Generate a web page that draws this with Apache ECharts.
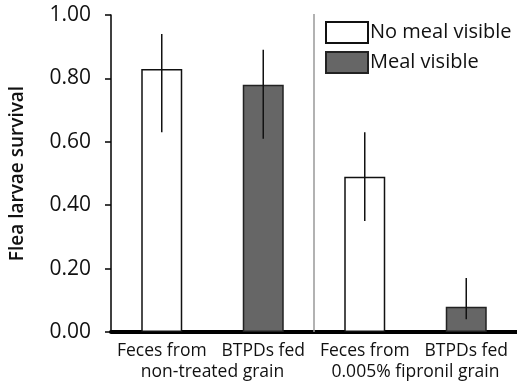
<!DOCTYPE html>
<html>
<head>
<meta charset="utf-8">
<script src="https://cdn.jsdelivr.net/npm/echarts@6/dist/echarts.min.js"></script>
<style>html,body{margin:0;padding:0;background:#fff}#c{width:517px;height:386px}</style>
</head>
<body>
<div id="c"></div>
<script>
const barLabels = ["Feces from", "BTPDs fed", "Feces from", "BTPDs fed"];
const groupLabels = ["non-treated grain", "0.005% fipronil grain"];
const noMeal = [0.83, null, 0.49, null];
const meal = [null, 0.78, null, 0.08];
const errLow = [0.63, 0.61, 0.35, 0.04];
const errHigh = [0.94, 0.89, 0.63, 0.17];
const separatorAfter = [1];

const FONT = "Open Sans";
const chart = echarts.init(document.getElementById('c'), null, {renderer: 'canvas'});

const errData = errLow.map((lo, i) => [i, lo, errHigh[i]]);
const sepData = separatorAfter.map(i => [i, 0]);

chart.setOption({
  animation: false,
  textStyle: {fontFamily: FONT},
  grid: {left: 110, right: 0, top: 15, bottom: 54, containLabel: false},
  legend: {
    left: 325, top: 21, orient: 'vertical', padding: 0,
    itemWidth: 42, itemHeight: 21, itemGap: 7, icon: 'rect',
    textStyle: {fontFamily: FONT, fontSize: 20, color: '#111', padding: [0, 0, 0, -3]},
    data: ['No meal visible', 'Meal visible']
  },
  xAxis: [{
    type: 'category', data: barLabels, position: 'bottom',
    axisLine: {show: true, lineStyle: {color: '#000', width: 4}},
    axisTick: {show: false},
    axisLabel: {fontFamily: FONT, fontSize: 17.5, color: '#111', margin: 10, interval: 0}
  }, {
    type: 'category', data: groupLabels, position: 'bottom', offset: 21,
    axisLine: {show: false}, axisTick: {show: false},
    axisLabel: {fontFamily: FONT, fontSize: 17.5, color: '#111', margin: 10, interval: 0}
  }],
  yAxis: {
    type: 'value', min: 0, max: 1, interval: 0.2,
    name: 'Flea larvae survival', nameLocation: 'middle', nameGap: 84,
    nameTextStyle: {fontFamily: FONT, fontSize: 19, color: '#111', fontWeight: 600},
    axisLine: {show: true, lineStyle: {color: '#000', width: 1.5}},
    axisTick: {show: true, inside: false, length: 6, lineStyle: {color: '#000', width: 1.5}},
    splitLine: {show: false},
    axisLabel: {fontFamily: FONT, fontSize: 21, color: '#111', margin: 20,
      formatter: v => v.toFixed(2)}
  },
  series: [{
    name: 'No meal visible', type: 'bar', data: noMeal, barWidth: 41, barGap: '-100%',
    itemStyle: {color: '#fff', borderColor: '#111', borderWidth: 1.5}
  }, {
    name: 'Meal visible', type: 'bar', data: meal, barWidth: 41, barGap: '-100%',
    itemStyle: {color: '#666', borderColor: '#222', borderWidth: 1.5}
  }, {
    type: 'custom', name: 'err', data: errData, z: 10,
    encode: {x: 0, y: [1, 2]},
    renderItem: (params, api) => {
      const x = api.value(0);
      const lo = api.coord([x, api.value(1)]);
      const hi = api.coord([x, api.value(2)]);
      return {type: 'line', shape: {x1: lo[0], y1: lo[1], x2: hi[0], y2: hi[1]},
        style: {stroke: '#111', lineWidth: 1.5}};
    }
  }, {
    type: 'custom', name: 'sep', data: sepData, z: 5,
    encode: {x: 0, y: 1},
    renderItem: (params, api) => {
      const i = api.value(0);
      const top = api.coord([i, 1]);
      const bot = api.coord([i, 0]);
      const w = api.size([1, 0])[0];
      const x = top[0] + w / 2;
      return {type: 'line', shape: {x1: x, y1: top[1] - 1, x2: x, y2: bot[1]},
        style: {stroke: '#999', lineWidth: 1.5}};
    }
  }]
});
</script>
</body>
</html>
